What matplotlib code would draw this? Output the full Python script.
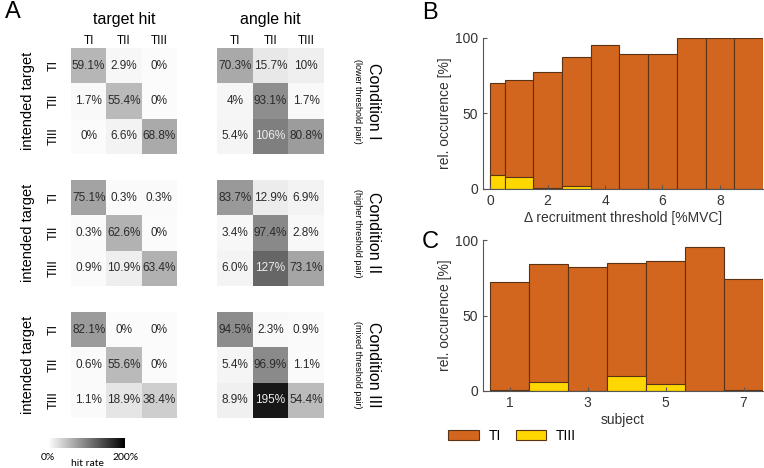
import numpy as np
import matplotlib.pyplot as plt

plt.rcParams['font.family'] = ['Liberation Sans', 'DejaVu Sans']

# panel A: hit rates (as printed in the cells)
tiers = ['TI', 'TII', 'TIII']
cond1_target = [['59.1%', '2.9%', '0%'], ['1.7%', '55.4%', '0%'], ['0%', '6.6%', '68.8%']]
cond1_angle = [['70.3%', '15.7%', '10%'], ['4%', '93.1%', '1.7%'], ['5.4%', '106%', '80.8%']]
cond2_target = [['75.1%', '0.3%', '0.3%'], ['0.3%', '62.6%', '0%'], ['0.9%', '10.9%', '63.4%']]
cond2_angle = [['83.7%', '12.9%', '6.9%'], ['3.4%', '97.4%', '2.8%'], ['6.0%', '127%', '73.1%']]
cond3_target = [['82.1%', '0%', '0%'], ['0.6%', '55.6%', '0%'], ['1.1%', '18.9%', '38.4%']]
cond3_angle = [['94.5%', '2.3%', '0.9%'], ['5.4%', '96.9%', '1.1%'], ['8.9%', '195%', '54.4%']]
cond_names = ['Condition I', 'Condition II', 'Condition III']
cond_sub = ['(lower threshold pair)', '(higher threshold pair)', '(mixed threshold pair)']

# panel B: occurrence vs delta recruitment threshold
thr_edges = [0, 0.5, 1.5, 2.5, 3.5, 4.5, 5.5, 6.5, 7.5, 8.5, 9.5]
thr_TI = [70.2, 72.2, 77.7, 87.4, 95.1, 89.4, 89.4, 100, 100, 100]
thr_TIII = [9.3, 7.7, 0.7, 2.0, 0, 0, 0, 0, 0, 0]

# panel C: occurrence per subject
subjects = [1, 2, 3, 4, 5, 6, 7]
subj_TI = [72.0, 83.9, 81.9, 85.0, 85.9, 95.4, 74.2]
subj_TIII = [0.7, 6.2, 0, 9.7, 4.9, 0, 0.9]

orange = '#D2661E'
yellow = '#FFD700'
edge = '#5a3315'

W, H = 764, 468
fig = plt.figure(figsize=(W / 100, H / 100), dpi=100)


def px(x0, y0, x1, y1):
    return [x0 / W, 1 - y1 / H, (x1 - x0) / W, (y1 - y0) / H]


def heat(ax, labels):
    vals = np.array([[float(s.rstrip('%')) for s in row] for row in labels])
    im = ax.imshow(vals, cmap='gray_r', vmin=-4, vmax=215, aspect='auto')
    for i in range(3):
        for j in range(3):
            c = '#eeeeee' if vals[i, j] > 100 else '#2a2a2a'
            ax.text(j, i, labels[i][j], ha='center', va='center', fontsize=8.5, color=c)
    ax.set_xticks([])
    ax.set_yticks([])
    for s in ax.spines.values():
        s.set_visible(False)
    return im


tops = [48, 180, 312]
mats = [(cond1_target, cond1_angle), (cond2_target, cond2_angle), (cond3_target, cond3_angle)]
for k, (top, (mt, ma)) in enumerate(zip(tops, mats)):
    ax1 = fig.add_axes(px(71, top, 177, top + 106))
    im = heat(ax1, mt)
    ax2 = fig.add_axes(px(217, top, 324, top + 106))
    heat(ax2, ma)
    for i, t in enumerate(tiers):
        ax1.text(-0.98, i, t, rotation=90, ha='center', va='center', fontsize=9)
    ax1.text(-1.72, 1, 'intended target', rotation=90, ha='center', va='center', fontsize=10.5)
    ax2.text(3.88, 1, cond_names[k], rotation=-90, ha='center', va='center', fontsize=11.5)
    ax2.text(3.45, 1, cond_sub[k], rotation=-90, ha='center', va='center', fontsize=6.5)
    if k == 0:
        for ax, title in [(ax1, 'target hit'), (ax2, 'angle hit')]:
            for j, t in enumerate(tiers):
                ax.text(j, -0.7, t, ha='center', va='center', fontsize=8.5)
            ax.text(1, -1.3, title, ha='center', va='center', fontsize=11.5)

# colorbar
cax = fig.add_axes(px(48, 438, 125, 448))
cb = fig.colorbar(im, cax=cax, orientation='horizontal')
cb.set_ticks([])
cb.outline.set_visible(False)
fig.text(48 / W, 1 - 457 / H, '0%', ha='center', va='center', fontsize=7.5, family='Lato')
fig.text(126 / W, 1 - 457 / H, '200%', ha='center', va='center', fontsize=7.5, family='Lato')
fig.text(87 / W, 1 - 463 / H, 'hit rate', ha='center', va='center', fontsize=7.5, family='Lato')


def bars(ax, left, width, ti, tiii):
    ax.bar(left, ti, width=width, align='edge', color=orange, edgecolor=edge, linewidth=0.8, label='TI')
    ax.bar(left, tiii, width=width, align='edge', color=yellow, edgecolor=edge, linewidth=0.8, label='TIII')
    ax.set_ylim(0, 100)
    ax.set_yticks([0, 50, 100])
    ax.spines['top'].set_visible(False)
    ax.spines['right'].set_visible(False)
    for s in ['left', 'bottom']:
        ax.spines[s].set_color('#555555')
    ax.tick_params(direction='in', labelsize=10, colors='#555555', labelcolor='#333333', length=3)
    ax.set_ylabel('rel. occurence [%]', fontsize=10, color='#333333', labelpad=2)


# panel B
axB = fig.add_axes(px(483, 38, 763, 189))
edges = np.array(thr_edges)
bars(axB, edges[:-1], np.diff(edges), thr_TI, thr_TIII)
axB.set_xlim(-0.25, 9.5)
axB.set_xticks([0, 2, 4, 6, 8])
axB.set_xlabel('\u0394 recruitment threshold [%MVC]', fontsize=10, color='#333333', labelpad=2)

# panel C
axC = fig.add_axes(px(483, 240, 763, 391))
subj = np.array(subjects)
bars(axC, subj - 0.5, 1.0, subj_TI, subj_TIII)
axC.set_xlim(0.32, 7.5)
axC.set_xticks([1, 3, 5, 7])
axC.set_xlabel('subject', fontsize=10, color='#333333', labelpad=2)

h, l = axC.get_legend_handles_labels()
fig.legend(h, l, loc='upper left', bbox_to_anchor=(448 / W, 1 - 429 / H), ncol=2, frameon=False,
           fontsize=10, handlelength=2.2, handleheight=0.75, handletextpad=0.7, columnspacing=1.1,
           borderpad=0, borderaxespad=0)

# panel letters
fig.text(13 / W, 1 - 12 / H, 'A', ha='center', va='center', fontsize=17)
fig.text(430 / W, 1 - 13 / H, 'B', ha='center', va='center', fontsize=17)
fig.text(430 / W, 1 - 242 / H, 'C', ha='center', va='center', fontsize=17)

fig.savefig('out.png', dpi=100)
